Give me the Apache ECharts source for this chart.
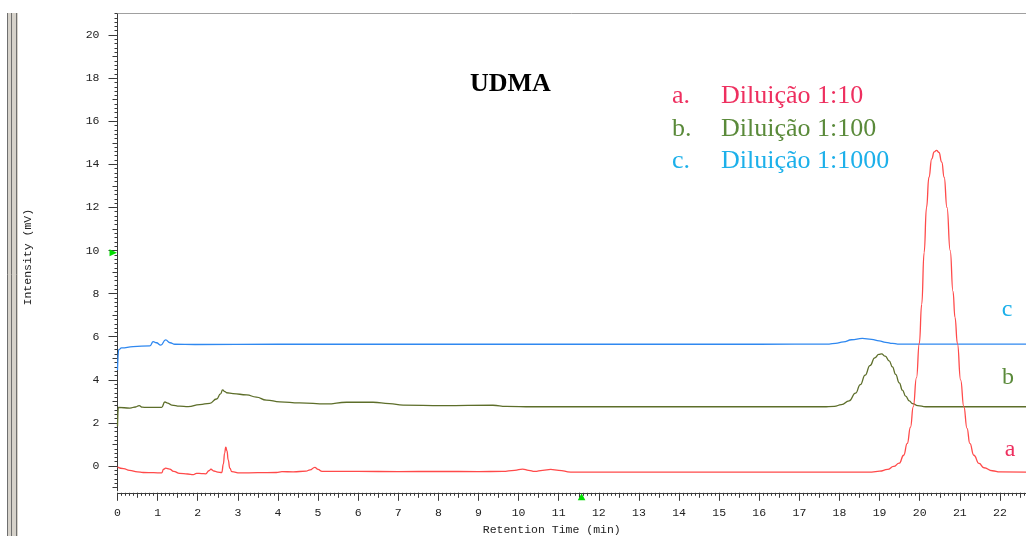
<!DOCTYPE html>
<html>
<head>
<meta charset="utf-8">
<script src="https://cdn.jsdelivr.net/npm/echarts@6/dist/echarts.min.js"></script>
<style>
  html, body { margin: 0; padding: 0; background: #ffffff; }
  #chart { width: 1026px; height: 536px; }
</style>
</head>
<body>
<div id="chart"></div>
<script>
// Tick labels of both axes
const yTickLabels = [0, 2, 4, 6, 8, 10, 12, 14, 16, 18, 20];
const xTickLabels = [0, 1, 2, 3, 4, 5, 6, 7, 8, 9, 10, 11, 12, 13, 14, 15, 16, 17, 18, 19, 20, 21, 22];

// Chromatogram traces: [retention time (min), intensity (mV)]
// a. Diluição 1:10
const traceA = [
  [0.00, -0.05], [0.15, -0.12], [0.30, -0.20], [0.50, -0.27], [0.64, -0.30], [0.90, -0.31],
  [1.10, -0.32], [1.15, -0.15], [1.20, -0.10], [1.30, -0.14], [1.40, -0.25], [1.55, -0.34],
  [1.75, -0.37], [1.89, -0.40], [1.97, -0.34], [2.10, -0.35], [2.20, -0.36], [2.28, -0.22],
  [2.33, -0.15], [2.40, -0.23], [2.50, -0.28], [2.60, -0.30], [2.64, 0.10], [2.67, 0.60],
  [2.70, 0.87], [2.73, 0.70], [2.76, 0.28], [2.80, -0.10], [2.85, -0.26], [3.05, -0.32],
  [3.50, -0.31], [3.96, -0.30], [4.10, -0.26], [4.38, -0.27], [4.70, -0.24], [4.80, -0.18],
  [4.92, -0.06], [5.00, -0.16], [5.10, -0.25], [6.00, -0.25], [7.00, -0.26], [8.00, -0.25],
  [9.00, -0.26], [9.60, -0.25], [9.90, -0.20], [10.10, -0.14], [10.25, -0.20], [10.40, -0.25],
  [10.60, -0.20], [10.80, -0.16], [11.00, -0.20], [11.30, -0.28], [12.00, -0.28], [13.00, -0.28],
  [14.00, -0.28], [15.00, -0.28], [16.00, -0.28], [17.00, -0.28], [18.00, -0.28], [18.80, -0.28],
  [19.00, -0.24], [19.20, -0.16], [19.35, -0.02], [19.49, 0.13], [19.60, 0.50], [19.69, 1.05],
  [19.77, 1.80], [19.84, 2.75], [19.92, 4.10], [19.99, 5.69], [20.05, 7.50], [20.11, 9.90],
  [20.17, 12.00], [20.23, 13.40], [20.30, 14.25], [20.36, 14.58], [20.42, 14.65], [20.48, 14.55],
  [20.55, 14.10], [20.61, 13.40], [20.68, 12.00], [20.76, 10.00], [20.83, 8.10], [20.88, 6.90],
  [20.94, 5.69], [21.02, 4.00], [21.10, 2.75], [21.18, 1.75], [21.25, 1.05], [21.35, 0.50],
  [21.48, 0.12], [21.60, -0.08], [21.81, -0.22], [22.00, -0.27], [22.65, -0.28]
];
// b. Diluição 1:100
const traceB = [
  [0.00, 1.85], [0.02, 2.72], [0.31, 2.69], [0.45, 2.74], [0.54, 2.80], [0.62, 2.73],
  [0.72, 2.72], [1.10, 2.72], [1.18, 2.97], [1.25, 2.92], [1.35, 2.83], [1.55, 2.78],
  [1.76, 2.76], [2.05, 2.85], [2.30, 2.91], [2.47, 3.11], [2.57, 3.35], [2.62, 3.53],
  [2.68, 3.45], [2.72, 3.40], [2.88, 3.36], [3.22, 3.30], [3.46, 3.20], [3.71, 3.06],
  [4.05, 2.98], [4.54, 2.93], [5.21, 2.88], [5.71, 2.96], [6.37, 2.96], [6.78, 2.90],
  [7.12, 2.83], [8.11, 2.80], [9.36, 2.82], [9.69, 2.77], [10.35, 2.75], [12.00, 2.75],
  [14.00, 2.75], [16.00, 2.75], [17.60, 2.75], [17.87, 2.77], [18.05, 2.85], [18.24, 3.02],
  [18.40, 3.38], [18.52, 3.78], [18.64, 4.22], [18.76, 4.66], [18.88, 5.02], [18.98, 5.18],
  [19.05, 5.20], [19.14, 5.10], [19.24, 4.88], [19.32, 4.60], [19.40, 4.25], [19.49, 3.86],
  [19.57, 3.52], [19.65, 3.24], [19.74, 3.02], [19.82, 2.90], [19.95, 2.80], [20.15, 2.75],
  [22.65, 2.75]
];
// c. Diluição 1:1000
const traceC = [
  [0.00, 4.45], [0.03, 5.40], [0.10, 5.48], [0.39, 5.54], [0.81, 5.58], [0.89, 5.77],
  [0.97, 5.72], [1.08, 5.61], [1.20, 5.85], [1.31, 5.72], [1.43, 5.65], [1.93, 5.64],
  [4.00, 5.65], [8.00, 5.65], [12.00, 5.65], [16.00, 5.65], [17.74, 5.66], [17.90, 5.69],
  [18.10, 5.76], [18.30, 5.86], [18.57, 5.92], [18.80, 5.88], [18.99, 5.81], [19.15, 5.74],
  [19.32, 5.69], [19.45, 5.66], [22.65, 5.66]
];

// Legend rows and trace tags
const legendKeys = ['a.', 'b.', 'c.'];
const legendNames = ['Diluição 1:10', 'Diluição 1:100', 'Diluição 1:1000'];
const traceTags = ['a', 'b', 'c'];

const lineColors = ['#ff4a4a', '#5d6e2a', '#2f88f0'];
const textColors = ['#ee2f5f', '#5a8a3a', '#1cb0ea'];

const X_MIN = 0, X_MAX = 22.65, Y_MIN = -1.15, Y_MAX = 21;
const axisColor = '#3a3a3a';
const monoFont = 'Liberation Mono';

// tick positions for the finer graduations
function steps(from, to, step) {
  const out = [];
  const n = Math.round((to - from) / step);
  for (let i = 0; i <= n; i++) {
    out.push(Math.round((from + i * step) * 100) / 100);
  }
  return out;
}
const yMinor = steps(-1.0, 21.0, 0.2);
const yMid = steps(-1, 19, 2);
const xMinor = steps(0, 22.6, 0.1);
const xMid = steps(0.5, 22.5, 1);

function hiddenAxisBase() {
  return {
    type: 'value', splitLine: { show: false }, axisLabel: { show: false },
    axisLine: { show: false, onZero: false }
  };
}

const chart = echarts.init(document.getElementById('chart'), null, { renderer: 'canvas' });

const option = {
  animation: false,
  backgroundColor: '#ffffff',
  grid: { left: 117.5, right: 0, top: 13.5, bottom: 45.2, containLabel: false, outerBoundsMode: 'none' },
  title: {
    text: 'UDMA', left: 470, top: 71, padding: 0,
    textStyle: { fontFamily: 'Liberation Serif', fontWeight: 'bold', fontSize: 26, color: '#000000' }
  },
  xAxis: [
    {
      type: 'value', min: X_MIN, max: X_MAX, position: 'bottom', offset: 2,
      splitLine: { show: false },
      axisLine: { show: true, onZero: false, lineStyle: { color: axisColor, width: 1 } },
      axisTick: { show: true, customValues: xTickLabels, length: 8, lineStyle: { color: axisColor } },
      axisLabel: {
        customValues: xTickLabels, margin: 14, fontFamily: monoFont, fontSize: 11.5, color: '#222',
        showMinLabel: true, showMaxLabel: true
      },
      name: 'Retention Time (min)', nameLocation: 'middle', nameGap: 29,
      nameTextStyle: { fontFamily: monoFont, fontSize: 11.5, color: '#222', padding: [0, 40, 0, 0] }
    },
    Object.assign(hiddenAxisBase(), {
      min: X_MIN, max: X_MAX, position: 'bottom', offset: 2,
      axisTick: { show: true, customValues: xMinor, length: 3, lineStyle: { color: axisColor } }
    }),
    Object.assign(hiddenAxisBase(), {
      min: X_MIN, max: X_MAX, position: 'bottom', offset: 2,
      axisTick: { show: true, customValues: xMid, length: 5, lineStyle: { color: axisColor } }
    }),
    Object.assign(hiddenAxisBase(), {
      min: X_MIN, max: X_MAX, position: 'top',
      axisLine: { show: true, onZero: false, lineStyle: { color: '#a0a0a0', width: 1 } },
      axisTick: { show: false }
    })
  ],
  yAxis: [
    {
      type: 'value', min: Y_MIN, max: Y_MAX, position: 'left',
      splitLine: { show: false },
      axisLine: { show: true, onZero: false, lineStyle: { color: axisColor, width: 1 } },
      axisTick: { show: true, customValues: yTickLabels, length: 9, lineStyle: { color: axisColor } },
      axisLabel: { customValues: yTickLabels, margin: 18, fontFamily: monoFont, fontSize: 11.5, color: '#222' },
      name: 'Intensity (mV)', nameLocation: 'middle', nameGap: 84,
      nameTextStyle: { fontFamily: monoFont, fontSize: 11.5, color: '#222', padding: [0, 10, 0, 0] }
    },
    Object.assign(hiddenAxisBase(), {
      min: Y_MIN, max: Y_MAX, position: 'left',
      axisTick: { show: true, customValues: yMinor, length: 3, lineStyle: { color: axisColor } }
    }),
    Object.assign(hiddenAxisBase(), {
      min: Y_MIN, max: Y_MAX, position: 'left',
      axisTick: { show: true, customValues: yMid, length: 5, lineStyle: { color: axisColor } }
    })
  ],
  series: [traceC, traceB, traceA].map(function (trace, k) {
    const idx = 2 - k;
    return {
      name: legendNames[idx], type: 'line', data: trace,
      xAxisIndex: 0, yAxisIndex: 0,
      showSymbol: false, symbol: 'none', smooth: 0.5, smoothMonotone: 'x', silent: true,
      lineStyle: { color: lineColors[idx], width: 1.3 },
      z: 3 + k
    };
  })
};
chart.setOption(option);

// Annotations: legend block, trace tags, markers and the side frame
const legendRowsY = [96, 129, 161];
const tagPositions = [[1010, 450], [1008, 378], [1007, 310]];
const serifFont = 'Liberation Serif';

const graphics = [];
// frame strip at the far left
graphics.push({ type: 'rect', shape: { x: 7, y: 13, width: 11, height: 523 }, style: { fill: '#d6d2ca' }, z: 1 });
[7.5, 11.5, 16.5].forEach(function (gx) {
  graphics.push({ type: 'line', shape: { x1: gx, y1: 13, x2: gx, y2: 536 }, style: { stroke: '#6f6f6f', lineWidth: 1 }, z: 2 });
});

legendKeys.forEach(function (key, i) {
  graphics.push({
    type: 'text', z: 10,
    style: { text: key, x: 672, y: legendRowsY[i], fill: textColors[i], font: '26px "' + serifFont + '"', verticalAlign: 'middle' }
  });
  graphics.push({
    type: 'text', z: 10,
    style: { text: legendNames[i], x: 721, y: legendRowsY[i], fill: textColors[i], font: '26px "' + serifFont + '"', verticalAlign: 'middle' }
  });
  graphics.push({
    type: 'text', z: 10,
    style: { text: traceTags[i], x: tagPositions[i][0], y: tagPositions[i][1], fill: textColors[i], font: '24px "' + serifFont + '"', align: 'center', verticalAlign: 'middle' }
  });
});

// green event markers on the axes
const yMark = chart.convertToPixel({ xAxisIndex: 0, yAxisIndex: 0 }, [0, 9.9]);
const xMark = chart.convertToPixel({ xAxisIndex: 0, yAxisIndex: 0 }, [11.57, Y_MIN]);
graphics.push({
  type: 'polygon', z: 12,
  shape: { points: [[yMark[0] - 0.5, yMark[1]], [yMark[0] - 8, yMark[1] - 3.5], [yMark[0] - 8, yMark[1] + 3.5]] },
  style: { fill: '#00dd00' }
});
graphics.push({
  type: 'polygon', z: 12,
  shape: { points: [[xMark[0], xMark[1] + 2.5], [xMark[0] - 3.8, xMark[1] + 9.5], [xMark[0] + 3.8, xMark[1] + 9.5]] },
  style: { fill: '#00dd00' }
});

chart.setOption({ graphic: graphics });
</script>
</body>
</html>
